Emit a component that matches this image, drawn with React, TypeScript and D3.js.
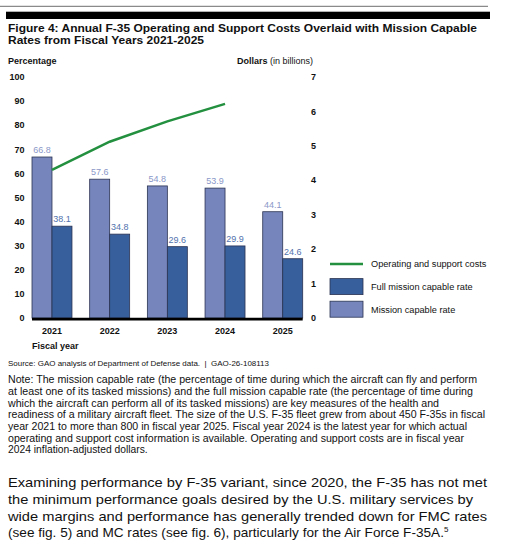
import React from "react";
import * as d3 from "d3";

const years = ["2021", "2022", "2023", "2024", "2025"];
const mcRate = [66.8, 57.6, 54.8, 53.9, 44.1];
const fmcRate = [38.1, 34.8, 29.6, 29.9, 24.6];
const costYears = ["2021", "2022", "2023", "2024"];
const costs = [4.3, 5.12, 5.71, 6.22];
const leftTicks = [0, 10, 20, 30, 40, 50, 60, 70, 80, 90, 100];
const rightTicks = [0, 1, 2, 3, 4, 5, 6, 7];
const seriesKeys = ["mc", "fmc"];
const legendItems = [
  { key: "line", label: "Operating and support costs" },
  { key: "fmc", label: "Full mission capable rate" },
  { key: "mc", label: "Mission capable rate" },
];
const titleLines = [
  "Figure 4: Annual F-35 Operating and Support Costs Overlaid with Mission Capable",
  "Rates from Fiscal Years 2021-2025",
];
const titleWidths = [469, 196];
const sourceText = "Source: GAO analysis of Department of Defense data.  |  GAO-26-108113";
const noteLines = [
  "Note: The mission capable rate (the percentage of time during which the aircraft can fly and perform",
  "at least one of its tasked missions) and the full mission capable rate (the percentage of time during",
  "which the aircraft can perform all of its tasked missions) are key measures of the health and",
  "readiness of a military aircraft fleet. The size of the U.S. F-35 fleet grew from about 450 F-35s in fiscal",
  "year 2021 to more than 800 in fiscal year 2025. Fiscal year 2024 is the latest year for which actual",
  "operating and support cost information is available. Operating and support costs are in fiscal year",
  "2024 inflation-adjusted dollars.",
];
const noteWidths = [469, 465, 431, 477, 459, 456, 0];
const bodyLines = [
  "Examining performance by F-35 variant, since 2020, the F-35 has not met",
  "the minimum performance goals desired by the U.S. military services by",
  "wide margins and performance has generally trended down for FMC rates",
  "(see fig. 5) and MC rates (see fig. 6), particularly for the Air Force F-35A.",
];
const bodyWidths = [479, 465, 479, 0];

const FONT = "'Liberation Sans', Arial, sans-serif";
const MC_FILL = "#7686bd";
const FMC_FILL = "#365f9b";
const MC_LABEL = "#8a97c8";
const FMC_LABEL = "#5272ad";
const GREEN = "#23903f";

export default function App() {
  const y0 = 318;
  const yTop = 77;
  const yLeft = d3.scaleLinear().domain([0, 100]).range([y0, yTop]);
  const yRight = d3.scaleLinear().domain([0, 7]).range([y0, yTop]);
  const x = d3.scaleBand().domain(years).range([32, 302.7]).paddingInner(0.307).paddingOuter(0);
  const xs = d3.scaleBand().domain(seriesKeys).range([0, x.bandwidth()]);
  const line = d3
    .line<number>()
    .x((_, i) => (x(costYears[i]) as number) + x.bandwidth() / 2)
    .y((d) => yRight(d))
    .curve(d3.curveLinear);

  const bars: any[] = [];
  years.forEach((yr, i) => {
    [
      { k: "mc", v: mcRate[i], fill: MC_FILL, lab: MC_LABEL },
      { k: "fmc", v: fmcRate[i], fill: FMC_FILL, lab: FMC_LABEL },
    ].forEach((s) => {
      const bx = (x(yr) as number) + (xs(s.k) as number);
      const by = yLeft(s.v);
      bars.push(
        <g key={yr + s.k}>
          <rect x={bx} y={by} width={xs.bandwidth()} height={y0 - by} fill={s.fill} stroke="#2b3352" strokeWidth={0.8} />
          <text x={bx + xs.bandwidth() / 2} y={by - 4} textAnchor="middle" fontSize={9} fill={s.lab}>
            {s.v.toFixed(1)}
          </text>
        </g>
      );
    });
  });

  return (
    <svg width={516} height={555} style={{ position: "absolute", left: 0, top: 0, background: "#fff" }} fontFamily={FONT}>
      <rect x={0} y={0} width={516} height={555} fill="#fff" />
      <line x1={0} x2={488} y1={6.3} y2={6.3} stroke="#8a8a8a" strokeWidth={1.3} />
      <rect x={6} y={11.7} width={484} height={7.3} fill="#000" />
      {titleLines.map((t, i) => (
        <text key={t} x={8} y={31.7 + i * 12.5} fontSize={11.5} fontWeight="bold" fill="#111"
          textLength={titleWidths[i]} lengthAdjust="spacingAndGlyphs">
          {t}
        </text>
      ))}
      <text x={8} y={64} fontSize={9} fontWeight="bold" fill="#111">Percentage</text>
      <text x={237} y={64} fontSize={9} fill="#111">
        <tspan fontWeight="bold">Dollars</tspan>
        <tspan dx={2.5}>(in billions)</tspan>
      </text>
      {leftTicks.map((t) => (
        <text key={"l" + t} x={24.5} y={yLeft(t) + 3.2} textAnchor="end" fontSize={9} fontWeight="bold" fill="#111">
          {t}
        </text>
      ))}
      {rightTicks.map((t) => (
        <text key={"r" + t} x={311} y={yRight(t) + 3.2} fontSize={9} fontWeight="bold" fill="#111">
          {t}
        </text>
      ))}
      {bars}
      <line x1={32} x2={302.7} y1={y0 + 1.2} y2={y0 + 1.2} stroke="#000" strokeWidth={2.8} />
      <path d={line(costs) || ""} fill="none" stroke={GREEN} strokeWidth={2.5} />
      {years.map((yr) => (
        <text key={"x" + yr} x={(x(yr) as number) + x.bandwidth() / 2} y={334} textAnchor="middle" fontSize={9} fontWeight="bold" fill="#111">
          {yr}
        </text>
      ))}
      <text x={32} y={349.3} fontSize={9} fontWeight="bold" fill="#111">Fiscal year</text>
      {legendItems.map((it, i) => {
        const cy = 264 + i * 22.6;
        return (
          <g key={it.key}>
            {it.key === "line" ? (
              <line x1={330} x2={363} y1={cy} y2={cy} stroke={GREEN} strokeWidth={2.5} />
            ) : (
              <rect x={330} y={cy - 8} width={33} height={16} fill={it.key === "fmc" ? FMC_FILL : MC_FILL} stroke="#2b3352" strokeWidth={0.8} />
            )}
            <text x={371} y={cy + 3.3} fontSize={9.2} fill="#111">{it.label}</text>
          </g>
        );
      })}
      <text x={8} y={366} fontSize={7.4} fill="#111" textLength={261} lengthAdjust="spacingAndGlyphs" style={{ whiteSpace: "pre" }}>
        {sourceText}
      </text>
      {noteLines.map((t, i) => (
        <text key={"n" + i} x={8} y={383.3 + i * 11.65} fontSize={10.3} fill="#111"
          textLength={noteWidths[i] || undefined} lengthAdjust="spacingAndGlyphs">
          {t}
        </text>
      ))}
      {bodyLines.map((t, i) => (
        <text key={"b" + i} x={8} y={487.3 + i * 16.7} fontSize={13.6} fill="#111"
          textLength={bodyWidths[i] || undefined} lengthAdjust="spacingAndGlyphs">
          {i === 3 ? (
            <>
              {t}
              <tspan fontSize={8} dy={-5}>5</tspan>
            </>
          ) : (
            t
          )}
        </text>
      ))}
    </svg>
  );
}
